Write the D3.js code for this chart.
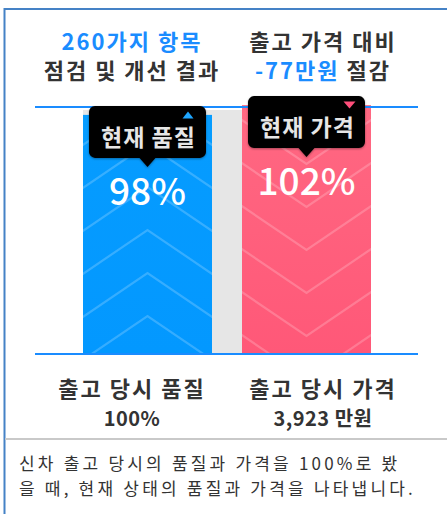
<!DOCTYPE html>
<html>
<head>
<meta charset="utf-8">
<script src="https://cdn.jsdelivr.net/npm/d3@7"></script>
<style>
	html, body { margin: 0; padding: 0; background: #fff; }
	svg { display: block; font-family: "Noto Sans CJK KR", "Noto Sans", sans-serif; }
</style>
</head>
<body>
<svg id="chart" width="447" height="514"></svg>
<script>
// data
const categories = ["현재 품질", "현재 가격"];
const values = [98, 102];
const baseValue = 100;
const trend = ["up", "down"];
const headerTop = [["260가지 항목"], ["출고 가격 대비"]];
const headerBottom = [["점검 및 개선 결과"], ["-77만원", " 절감"]];
const footLabels = ["출고 당시 품질", "출고 당시 가격"];
const footValues = ["100%", "3,923 만원"];
const noteLines = ["신차 출고 당시의 품질과 가격을 100%로 봤", "을 때, 현재 상태의 품질과 가격을 나타냅니다."];

const colors = ["#069cff", "#ff6882"];
const colorsDark = ["#0398ff", "#ff5878"];
const blueText = "#1a8cff";

let svg = d3.select("#chart");
let defs = svg.append("defs");

/* ------------------------------------------------------ */
/* ------------------------ FRAME ----------------------- */

svg.append("line").attr("x1", 4).attr("x2", 447).attr("y1", 9).attr("y2", 9)
	.attr("stroke", "#4582c6").attr("stroke-width", 2);
svg.append("line").attr("x1", 4.5).attr("x2", 4.5).attr("y1", 8).attr("y2", 514)
	.attr("stroke", "#4582c6").attr("stroke-width", 2);
svg.append("line").attr("x1", 5).attr("x2", 447).attr("y1", 439).attr("y2", 439)
	.attr("stroke", "#c9c9c9").attr("stroke-width", 2);

/* ------------------------------------------------------ */
/* ------------------------ SCALES ---------------------- */

let x = d3.scaleBand().domain(categories).range([83, 371]).paddingInner(0.1887).paddingOuter(0);
let y = d3.scaleLinear().domain([0, baseValue]).range([354, 110]);
let tx = d3.scalePoint().domain(categories).range([132, 323]);

/* ------------------------------------------------------ */
/* ------------------------ HEADERS --------------------- */

let header = svg.append("g").attr("text-anchor", "middle")
	.attr("font-size", 22).attr("font-weight", 700).attr("fill", "#333")
	.attr("letter-spacing", 2);

header.selectAll(".h1")
	.data(categories)
	.enter().append("text")
	.attr("class", "h1")
	.attr("x", function (d) { return tx(d); })
	.attr("y", 50)
	.attr("fill", function (d, i) { return i == 0 ? blueText : "#333"; })
	.text(function (d, i) { return headerTop[i][0]; });

header.selectAll(".h2")
	.data(categories)
	.enter().append("text")
	.attr("class", "h2")
	.attr("x", function (d) { return tx(d); })
	.attr("y", 79)
	.each(function (d, i) {
		let t = d3.select(this);
		headerBottom[i].forEach(function (part, j) {
			t.append("tspan")
				.attr("fill", (i == 1 && j == 0) ? blueText : "#333")
				.text(part);
		});
	});

/* ------------------------------------------------------ */
/* ------------------------ BARS ------------------------ */

// 100% background
svg.append("rect")
	.attr("x", x.range()[0])
	.attr("y", y(baseValue))
	.attr("width", x.range()[1] - x.range()[0])
	.attr("height", y(0) - y(baseValue))
	.attr("fill", "#e6e6e6");

categories.forEach(function (c, i) {
	let g = defs.append("linearGradient").attr("id", "grad" + i)
		.attr("x1", 0).attr("x2", 0).attr("y1", 0).attr("y2", 1);
	g.append("stop").attr("offset", "0%").attr("stop-color", colors[i]);
	g.append("stop").attr("offset", "100%").attr("stop-color", colorsDark[i]);

	defs.append("clipPath").attr("id", "clip" + i)
		.append("rect")
		.attr("x", x(c)).attr("y", y(values[i]))
		.attr("width", x.bandwidth()).attr("height", y(0) - y(values[i]));
});

let bars = svg.selectAll(".bar")
	.data(categories)
	.enter().append("g")
	.attr("class", "bar");

bars.append("rect")
	.attr("x", function (d) { return x(d); })
	.attr("y", function (d, i) { return y(values[i]); })
	.attr("width", x.bandwidth())
	.attr("height", function (d, i) { return y(0) - y(values[i]); })
	.attr("fill", function (d, i) { return "url(#grad" + i + ")"; });

// chevrons inside the bars
bars.each(function (d, i) {
	let cx = x(d) + x.bandwidth() / 2;
	let half = x.bandwidth() / 2 + 10;
	let dir = trend[i] == "up" ? 1 : -1;
	let start = trend[i] == "up" ? 316 : 336;
	let g = d3.select(this).append("g").attr("clip-path", "url(#clip" + i + ")");
	for(let k = -1; k < 7; k++){
		let vy = start - 43 * k;
		g.append("path")
			.attr("d", "M" + (cx - half) + "," + (vy + dir * half * 0.68)
				+ "L" + cx + "," + vy
				+ "L" + (cx + half) + "," + (vy + dir * half * 0.68))
			.attr("fill", "none")
			.attr("stroke", "#fff")
			.attr("stroke-opacity", 0.2)
			.attr("stroke-width", 2.2);
	}
});

// guide lines
[107, 354].forEach(function (ly) {
	svg.append("line").attr("x1", 35).attr("x2", 418).attr("y1", ly).attr("y2", ly)
		.attr("stroke", "#1a8cff").attr("stroke-width", 2);
});

/* ------------------------------------------------------ */
/* ------------------------ TAGS ------------------------ */

let shadow = defs.append("filter").attr("id", "shadow")
	.attr("x", "-10%").attr("y", "-10%").attr("width", "120%").attr("height", "130%");
shadow.append("feDropShadow").attr("dx", 0).attr("dy", 1).attr("stdDeviation", 1.2)
	.attr("flood-color", "#000").attr("flood-opacity", 0.35);

let tags = svg.selectAll(".tag")
	.data(categories)
	.enter().append("g")
	.attr("class", "tag")
	.attr("transform", function (d, i) {
		return "translate(" + (x(d) + x.bandwidth() / 2) + "," + (y(values[i]) - 9) + ")";
	});

tags.append("path")
	.attr("d", "M-52.5,0 H52.5 A6,6 0 0 1 58.5,6 V46 A6,6 0 0 1 52.5,52 H8 L0,61 L-8,52 H-52.5 A6,6 0 0 1 -58.5,46 V6 A6,6 0 0 1 -52.5,0 Z")
	.attr("fill", "#050505")
	.attr("filter", "url(#shadow)");

// small up / down marker in the corner
tags.append("path")
	.attr("d", function (d, i) {
		return trend[i] == "up" ? "M35,12.5 L46,12.5 L40.5,5.5 Z" : "M37,5.5 L49,5.5 L43,12.5 Z";
	})
	.attr("fill", function (d, i) { return i == 0 ? "#1fa6ff" : "#ff4f7b"; });

tags.append("text")
	.attr("text-anchor", "middle")
	.attr("x", 1)
	.attr("y", 40)
	.attr("font-size", 23)
	.attr("font-weight", 700)
	.attr("letter-spacing", 1)
	.attr("fill", "#e6e6e6")
	.text(function (d) { return d; });

tags.append("text")
	.attr("text-anchor", "middle")
	.attr("y", 99)
	.attr("font-size", 37)
	.attr("font-weight", 500)
	.attr("fill", "#fff")
	.text(function (d, i) { return values[i] + "%"; });

/* ------------------------------------------------------ */
/* ------------------------ FOOTER ---------------------- */

let foot = svg.append("g").attr("text-anchor", "middle").attr("fill", "#333").attr("font-weight", 700)
	.attr("letter-spacing", 2);

foot.selectAll(".fl")
	.data(categories)
	.enter().append("text")
	.attr("x", function (d) { return tx(d); })
	.attr("y", 397)
	.attr("font-size", 22)
	.text(function (d, i) { return footLabels[i]; });

foot.selectAll(".fv")
	.data(categories)
	.enter().append("text")
	.attr("x", function (d) { return tx(d); })
	.attr("y", 426)
	.attr("font-size", 20)
	.attr("letter-spacing", 0.5)
	.text(function (d, i) { return footValues[i]; });

// note: two lines
svg.selectAll(".note")
	.data(noteLines)
	.enter().append("text")
	.attr("class", "note")
	.attr("x", 19)
	.attr("y", function (d, i) { return 470 + i * 25; })
	.attr("font-size", 17)
	.attr("letter-spacing", 3.2)
	.attr("fill", "#333")
	.text(function (d) { return d; });
</script>
</body>
</html>
